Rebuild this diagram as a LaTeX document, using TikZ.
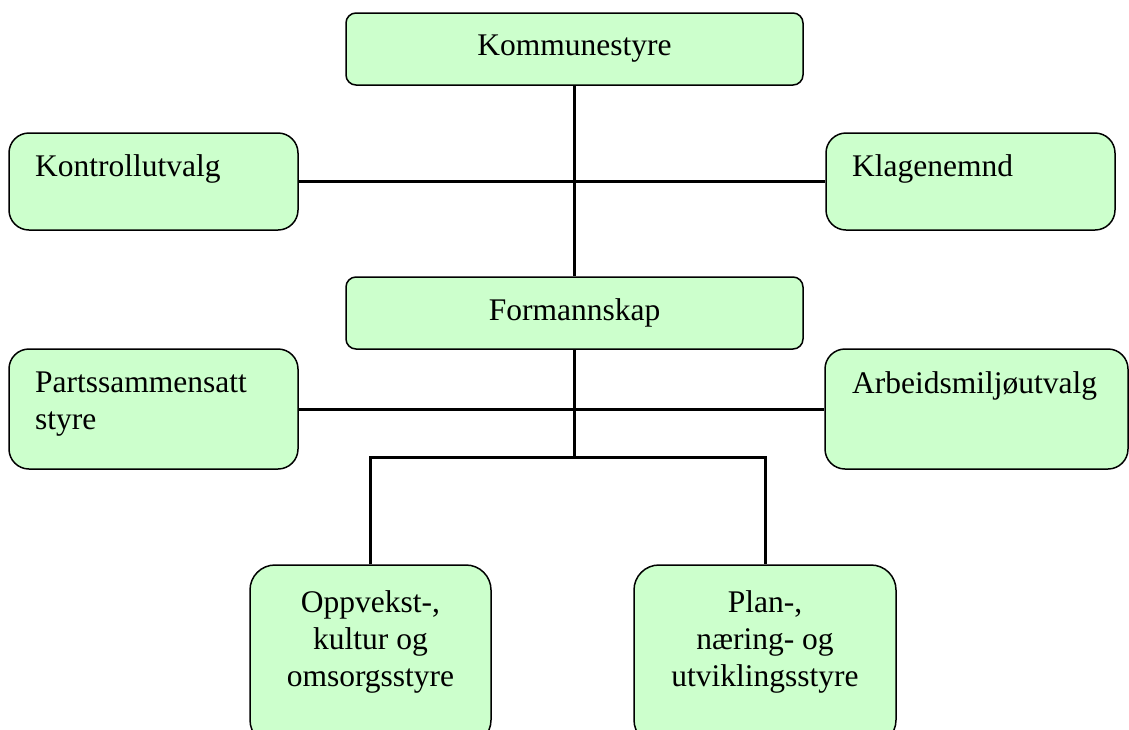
\documentclass[tikz,border=0pt]{standalone}
\usepackage{fontspec}
\setmainfont{Liberation Serif}
\definecolor{boxfill}{HTML}{CCFFCC}
\tikzset{
  box/.style={draw=black, line width=1.5pt, fill=boxfill, rectangle, inner sep=0pt},
  lbl/.style={inner sep=0pt, font=\fontsize{31.5}{37}\selectfont},
  conn/.style={line width=3pt, draw=black}
}
\begin{document}
\begin{tikzpicture}[x=1pt,y=-1pt]
\useasboundingbox (0,0) rectangle (1129,729);
\begin{scope}
\clip (0,0) rectangle (1129,729);
% boxes
\node[box, rounded corners=10pt, minimum width=457pt, minimum height=72pt] (kom) at (574.5,49) {};
\node[box, rounded corners=20pt, minimum width=289pt, minimum height=97pt] (kontroll) at (153.5,181.5) {};
\node[box, rounded corners=20pt, minimum width=289pt, minimum height=97pt] (klage) at (970.5,181.5) {};
\node[box, rounded corners=10pt, minimum width=457pt, minimum height=72pt] (form) at (574.5,313) {};
\node[box, rounded corners=20pt, minimum width=289pt, minimum height=120pt] (parts) at (153.5,409) {};
\node[box, rounded corners=20pt, minimum width=303pt, minimum height=120pt] (arb) at (976.5,409) {};
\node[box, rounded corners=25pt, minimum width=241pt, minimum height=180pt] (opp) at (370.5,655) {};
\node[box, rounded corners=25pt, minimum width=262pt, minimum height=180pt] (plan) at (765,655) {};
% connectors
\coordinate (j) at (574.5,457);
\draw[conn] (kom.south) -- (form.north);
\draw[conn] (kontroll.east) -- (klage.west);
\draw[conn] (parts.east) -- (arb.west);
\draw[conn] (form.south) -- (j);
\draw[conn] (opp.north) |- (j) -| (plan.north);
% texts
\node[lbl, anchor=base] (komT) at (574.5,55) {Kommunestyre};
\node[lbl, anchor=base west] (kontrollT) at (35,176) {Kontrollutvalg};
\node[lbl, anchor=base west] (klageT) at (852,176) {Klagenemnd};
\node[lbl, anchor=base] (formT) at (574.5,320) {Formannskap};
\node[lbl, anchor=north west, align=left] (partsT) at (35,372) {Partssammensatt\\styre};
\node[lbl, anchor=base west] (arbT) at (852,393) {Arbeidsmiljøutvalg};
\node[lbl, anchor=north, align=center] (oppT) at (370.5,590) {Oppvekst-,\\kultur og\\omsorgsstyre};
\node[lbl, anchor=north, align=center] (planT) at (765,590) {Plan-,\\næring- og\\utviklingsstyre};
\end{scope}
\end{tikzpicture}
\end{document}
